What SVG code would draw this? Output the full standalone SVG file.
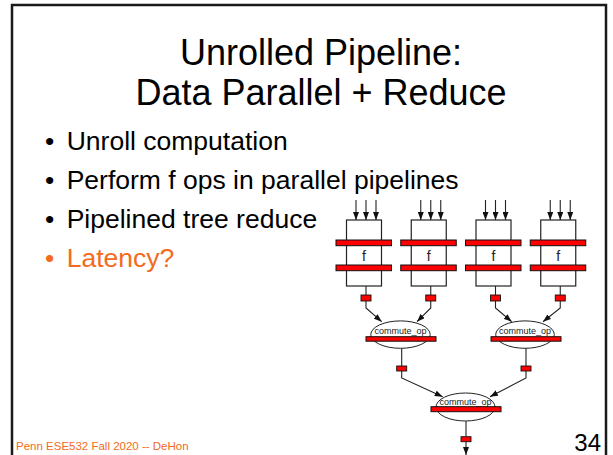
<svg xmlns="http://www.w3.org/2000/svg" width="613" height="455" viewBox="0 0 613 455">
<style>
.t{font-family:"Liberation Sans",Arial,sans-serif}
.title{font-size:36px;fill:#000;text-anchor:middle}
.b{font-size:26.5px;fill:#000}
.o{fill:#f26b21}
.box{fill:#fff;stroke:#222;stroke-width:1.2}
.bar{fill:#f00;stroke:#111;stroke-width:1}
.reg{fill:#f00;stroke:#111;stroke-width:0.9}
.ln{fill:none;stroke:#222;stroke-width:1.1}
.ell{fill:#fff;stroke:#222;stroke-width:1}
.lbl{font-size:9px;fill:#222;text-anchor:middle}
.f{font-size:14px;fill:#222;text-anchor:middle}
</style>
<defs>
<marker id="ah" markerUnits="userSpaceOnUse" markerWidth="8" markerHeight="6" refX="8" refY="3" orient="auto">
<path d="M0,0 L8,3 L0,6 z" fill="#111"/>
</marker>
</defs>
<rect x="0" y="0" width="613" height="455" fill="#fff"/>
<rect x="12" y="5" width="594" height="470" fill="none" stroke="#1a1a1a" stroke-width="2.5"/>
<g id="title" class="t">
<text class="t title" x="321" y="65">Unrolled Pipeline:</text>
<text class="t title" x="321" y="105">Data Parallel + Reduce</text>
</g>
<g id="bullets" class="t">
<text class="t b" x="45" y="150">•</text><text class="t b" x="66.7" y="150">Unroll computation</text>
<text class="t b" x="45" y="189">•</text><text class="t b" x="66.7" y="189">Perform f ops in parallel pipelines</text>
<text class="t b" x="45" y="228">•</text><text class="t b" x="66.7" y="228">Pipelined tree reduce</text>
<text class="t b o" x="45" y="267">•</text><text class="t b o" x="66.7" y="267">Latency?</text>
</g>
<g id="connectors">
<line class="ln" x1="356" y1="200" x2="356" y2="220" marker-end="url(#ah)"/>
<line class="ln" x1="366" y1="200" x2="366" y2="220" marker-end="url(#ah)"/>
<line class="ln" x1="376" y1="200" x2="376" y2="220" marker-end="url(#ah)"/>
<line class="ln" x1="420.75" y1="200" x2="420.75" y2="220" marker-end="url(#ah)"/>
<line class="ln" x1="430.75" y1="200" x2="430.75" y2="220" marker-end="url(#ah)"/>
<line class="ln" x1="440.75" y1="200" x2="440.75" y2="220" marker-end="url(#ah)"/>
<line class="ln" x1="485.5" y1="200" x2="485.5" y2="220" marker-end="url(#ah)"/>
<line class="ln" x1="495.5" y1="200" x2="495.5" y2="220" marker-end="url(#ah)"/>
<line class="ln" x1="505.5" y1="200" x2="505.5" y2="220" marker-end="url(#ah)"/>
<line class="ln" x1="550.25" y1="200" x2="550.25" y2="220" marker-end="url(#ah)"/>
<line class="ln" x1="560.25" y1="200" x2="560.25" y2="220" marker-end="url(#ah)"/>
<line class="ln" x1="570.25" y1="200" x2="570.25" y2="220" marker-end="url(#ah)"/>
<line class="ln" x1="366" y1="286" x2="366" y2="295"/>
<line class="ln" x1="430.75" y1="286" x2="430.75" y2="295"/>
<line class="ln" x1="495.5" y1="286" x2="495.5" y2="295"/>
<line class="ln" x1="560.25" y1="286" x2="560.25" y2="295"/>
<polyline class="ln" points="366,301 366,308 381.7,321.7" marker-end="url(#ah)"/>
<polyline class="ln" points="430.75,301 430.75,308 417,321.7" marker-end="url(#ah)"/>
<polyline class="ln" points="495.5,301 495.5,308 511.7,321.7" marker-end="url(#ah)"/>
<polyline class="ln" points="560.25,301 560.25,308 543,321.7" marker-end="url(#ah)"/>
<line class="ln" x1="401.7" y1="348" x2="401.7" y2="366"/>
<line class="ln" x1="526" y1="348" x2="526" y2="366"/>
<polyline class="ln" points="401.7,371 401.7,378 442.7,396.7" marker-end="url(#ah)"/>
<polyline class="ln" points="526,371 526,378 490,396.7" marker-end="url(#ah)"/>
<line class="ln" x1="466" y1="421" x2="466" y2="436.7"/>
<line class="ln" x1="466" y1="441.7" x2="466" y2="455" marker-end="url(#ah)"/>
</g>
<g id="f1">
<rect class="box" x="346.5" y="220" width="35" height="66"/>
<rect class="bar" x="336" y="240" width="55.5" height="5.7"/>
<rect class="bar" x="336" y="265" width="55.5" height="5.7"/>
<text class="t f" x="364" y="261">f</text>
<rect class="reg" x="361" y="295" width="10" height="6"/>
</g>
<g id="f2">
<rect class="box" x="411.25" y="220" width="35" height="66"/>
<rect class="bar" x="400.75" y="240" width="55.5" height="5.7"/>
<rect class="bar" x="400.75" y="265" width="55.5" height="5.7"/>
<text class="t f" x="428.75" y="261">f</text>
<rect class="reg" x="425.75" y="295" width="10" height="6"/>
</g>
<g id="f3">
<rect class="box" x="476" y="220" width="35" height="66"/>
<rect class="bar" x="465.5" y="240" width="55.5" height="5.7"/>
<rect class="bar" x="465.5" y="265" width="55.5" height="5.7"/>
<text class="t f" x="493.5" y="261">f</text>
<rect class="reg" x="490.5" y="295" width="10" height="6"/>
</g>
<g id="f4">
<rect class="box" x="540.75" y="220" width="35" height="66"/>
<rect class="bar" x="530.25" y="240" width="55.5" height="5.7"/>
<rect class="bar" x="530.25" y="265" width="55.5" height="5.7"/>
<text class="t f" x="558.25" y="261">f</text>
<rect class="reg" x="555.25" y="295" width="10" height="6"/>
</g>
<g id="op1">
<ellipse class="ell" cx="400.5" cy="334.6" rx="29.7" ry="13.7"/>
<text class="t lbl" x="400.5" y="333.5">commute_op</text>
<rect class="bar" x="366" y="336.7" width="70" height="4.5"/>
<rect class="reg" x="396.7" y="366" width="10" height="5"/>
</g>
<g id="op2">
<ellipse class="ell" cx="525" cy="334.6" rx="29.3" ry="13.7"/>
<text class="t lbl" x="525" y="333.5">commute_op</text>
<rect class="bar" x="491" y="336.7" width="70" height="4.5"/>
<rect class="reg" x="521" y="366" width="10" height="5"/>
</g>
<g id="op3">
<ellipse class="ell" cx="465.5" cy="407" rx="29.5" ry="14"/>
<text class="t lbl" x="465.5" y="404.5">commute_op</text>
<rect class="bar" x="431" y="406.7" width="70" height="5"/>
<rect class="reg" x="461" y="436.7" width="10" height="5"/>
</g>
<g id="footer">
<text class="t o" x="16" y="450" font-size="11.5">Penn ESE532 Fall 2020 -- DeHon</text>
<text class="t" x="601" y="451" font-size="24" text-anchor="end" fill="#000">34</text>
</g>
</svg>
